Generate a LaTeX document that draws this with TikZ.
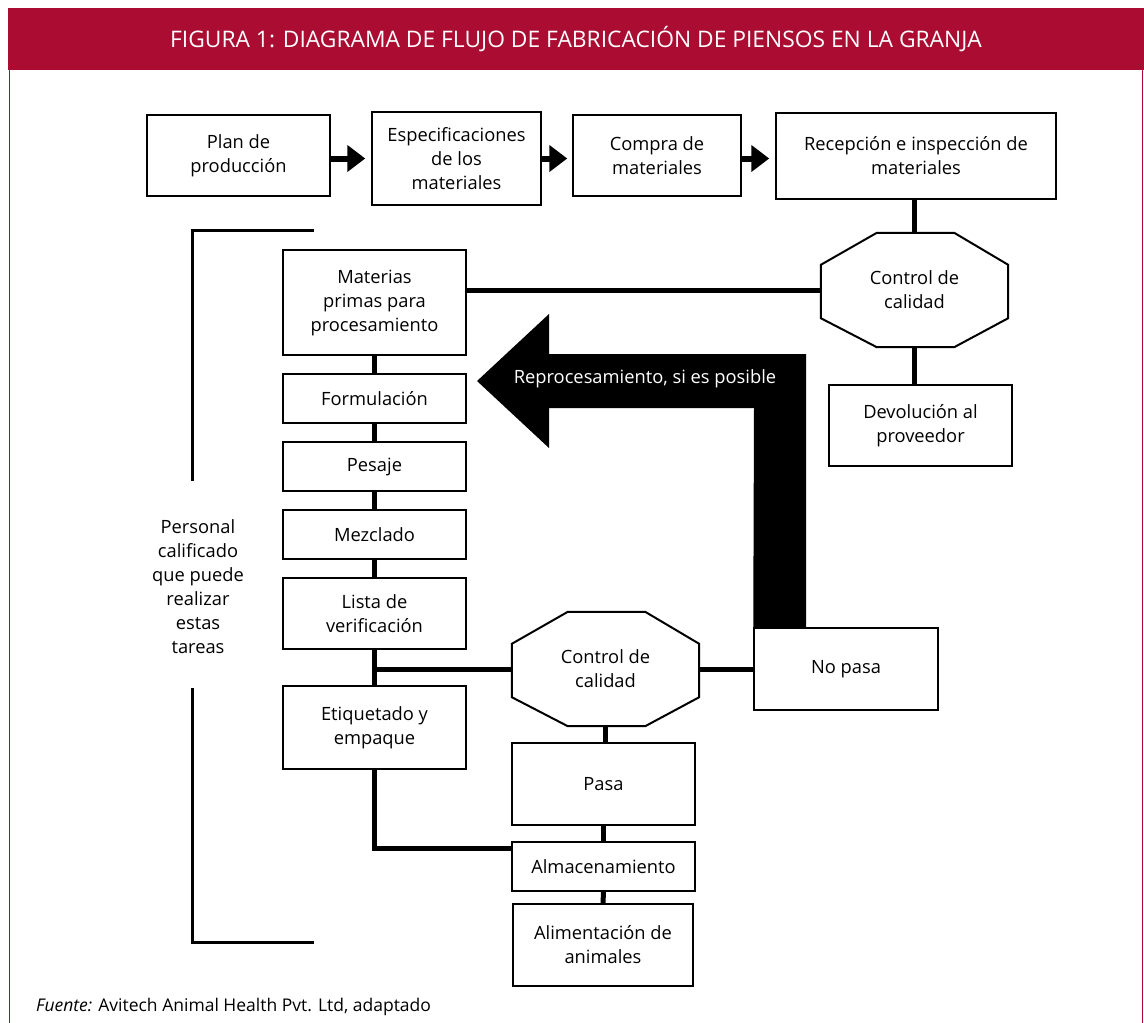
\documentclass[tikz,border=0pt]{standalone}
\usepackage{fontspec}
\setmainfont{Open Sans}
\usetikzlibrary{arrows.meta}
\definecolor{fred}{RGB}{170,12,50}
\newcommand{\fs}{\fontsize{18.3}{24}\selectfont}
\tikzset{
  box/.style={draw, line width=1.5pt, fill=white, align=center, inner sep=0pt, font=\fs},
  octtext/.style={inner sep=0pt, align=center, font=\fs, minimum width=187pt, minimum height=114pt},
  octline/.style={draw, line width=2pt, fill=white},
  conn/.style={line width=5pt},
  bigarrow/.style={line width=6pt, -{Triangle[length=18pt,width=26pt]}},
  bracket/.style={line width=3pt},
}
\begin{document}
\begin{tikzpicture}[x=1pt,y=-1pt]
\useasboundingbox (0,0) rectangle (1144,1023);
% frame
\fill[fred] (8,8) rectangle (1144,70);
\draw[fred, line width=1.2pt] (9.5,70) -- (9.5,1023);
\draw[fred, line width=1.2pt] (1142.5,70) -- (1142.5,1023);
\node[text=white, font=\fontsize{22.8}{26}\selectfont] (title) at (576,39) {FIGURA 1: DIAGRAMA DE FLUJO DE FABRICACIÓN DE PIENSOS EN LA GRANJA};

% top row
\node[box, minimum width=183pt, minimum height=81pt] (plan) at (238.5,155.5) {Plan de\\producción};
\node[box, minimum width=169pt, minimum height=93pt] (espec) at (456.5,158.5) {Especificaciones\\de los\\materiales};
\node[box, minimum width=168pt, minimum height=81pt] (compra) at (657,155.5) {Compra de\\materiales};
\node[box, minimum width=280pt, minimum height=86pt] (recv) at (916,156) {Recepción e inspección de\\materiales};
\draw[bigarrow] (plan.east |- espec.west) -- ([xshift=-6pt]espec.west);
\draw[bigarrow] (espec.east) -- ([xshift=-5pt]compra.west |- espec.east);
\draw[bigarrow] (compra.east |- espec.east) -- ([xshift=-6pt]recv.west |- espec.east);

% quality control 1
\node[octtext] (q1) at (914.5,290) {};
\draw[conn] (q1.north) -- (q1.north |- recv.south);
\draw[octline] ([xshift=56pt]q1.north west) -- ([xshift=-54pt]q1.north east) -- ([yshift=-32pt]q1.north east) -- ([yshift=29pt]q1.south east) -- ([xshift=-54pt]q1.south east) -- ([xshift=56pt]q1.south west) -- ([yshift=29pt]q1.south west) -- ([yshift=-32pt]q1.north west) -- cycle;
\node[inner sep=0pt, align=center, font=\fs] (q1t) at (q1) {Control de\\calidad};
\node[box, minimum width=183pt, minimum height=81pt] (dev) at (920.5,425.5) {Devolución al\\proveedor};
\draw[conn] (q1.south) -- (q1.south |- dev.north);

% left column
\node[box, minimum width=183pt, minimum height=105pt] (mat) at (374.5,302.5) {Materias\\primas para\\procesamiento};
\node[box, minimum width=183pt, minimum height=49pt] (form) at (374.5,398.5) {Formulación};
\node[box, minimum width=183pt, minimum height=49pt] (pes) at (374.5,466.5) {Pesaje};
\node[box, minimum width=183pt, minimum height=49pt] (mez) at (374.5,534.5) {Mezclado};
\node[box, minimum width=183pt, minimum height=71pt] (lista) at (374.5,613.5) {Lista de\\verificación};
\node[box, minimum width=183pt, minimum height=83pt] (etiq) at (374.5,727.5) {Etiquetado y\\empaque};
\draw[conn] (q1.west) -- (q1.west -| mat.east);
\draw[conn] (mat.south) -- (form.north);
\draw[conn] (form.south) -- (pes.north);
\draw[conn] (pes.south) -- (mez.north);
\draw[conn] (mez.south) -- (lista.north);
\draw[conn] (lista.south) -- (etiq.north);

% quality control 2
\node[octtext] (q2) at (605.5,669) {};
\node[box, minimum width=184pt, minimum height=82pt] (nopasa) at (846,669) {No pasa};
\node[box, minimum width=183pt, minimum height=82pt] (pasa) at (603.5,784) {Pasa};
\node[box, minimum width=183pt, minimum height=49pt] (alm) at (603.5,866.5) {Almacenamiento};
\node[box, minimum width=180pt, minimum height=82pt] (alim) at (603,945) {Alimentación de\\animales};
\draw[conn] (lista.south |- q2.west) -- (q2.west);
\draw[conn] (q2.east) -- (nopasa.west);
\draw[conn] (q2.south) -- (q2.south |- pasa.north);
\draw[conn] (pasa.south) -- (alm.north);
\draw[conn] (alm.south) -- (alim.north);
\draw[conn] (etiq.south) |- ([yshift=-7pt]alm.north west);
\draw[octline] ([xshift=56pt]q2.north west) -- ([xshift=-54pt]q2.north east) -- ([yshift=-32pt]q2.north east) -- ([yshift=29pt]q2.south east) -- ([xshift=-54pt]q2.south east) -- ([xshift=56pt]q2.south west) -- ([yshift=29pt]q2.south west) -- ([yshift=-32pt]q2.north west) -- cycle;
\node[inner sep=0pt, align=center, font=\fs] (q2t) at (q2) {Control de\\calidad};

% reprocessing arrow
\fill[black] (nopasa.north west) -- (754,408) -- (549,408) -- (549,448) -- (477,381) -- (549,314) -- (549,354) -- (806,354) -- (806,628) -- cycle;
\node[text=white, font=\fs, inner sep=0pt] (rep) at (645,379) {Reprocesamiento, si es posible};

% bracket and staff label
\draw[bracket] (314,230) -- (192,230) -- (192,481);
\draw[bracket] (192,688) -- (192,942) -- (314,942);
\node[align=center, font=\fs, inner sep=0pt] (pers) at (198,587) {Personal\\calificado\\que puede\\realizar\\estas\\tareas};

% source
\node[anchor=west, font=\fontsize{17.5}{24}\selectfont, inner sep=0pt] (src) at (36,1007) {\textit{Fuente:} Avitech Animal Health Pvt. Ltd, adaptado};
\end{tikzpicture}
\end{document}
